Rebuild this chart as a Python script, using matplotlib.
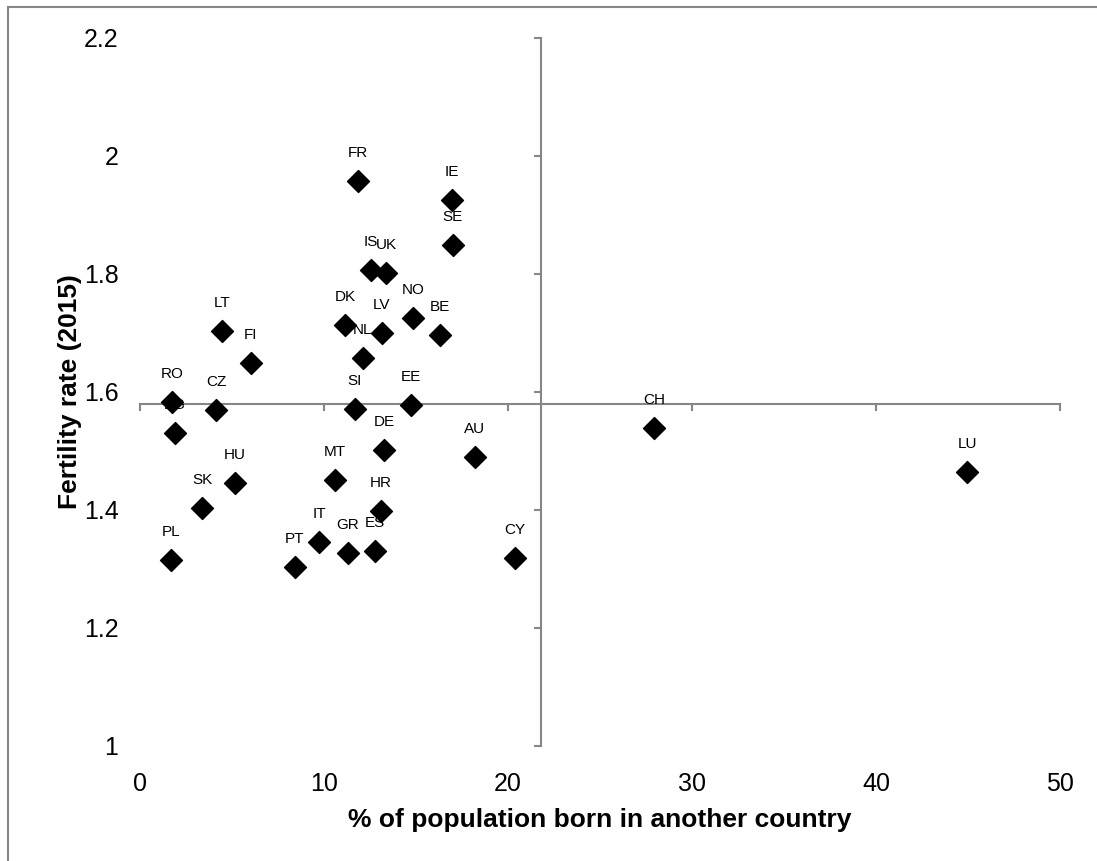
import matplotlib.pyplot as plt
from matplotlib.patches import Rectangle

plt.rcParams['font.family'] = ['Liberation Sans', 'DejaVu Sans']

# 国コード、外国生まれ人口(%)、出生率(2015)
countries = ['FR', 'IE', 'SE', 'IS', 'UK', 'DK', 'LV', 'NO', 'BE', 'NL',
             'LT', 'FI', 'RO', 'BG', 'CZ', 'SI', 'EE', 'DE', 'MT', 'HU',
             'SK', 'HR', 'IT', 'GR', 'ES', 'PT', 'PL', 'AU', 'CY', 'CH', 'LU']
born_abroad = [11.85, 16.96, 17.0, 12.55, 13.37, 11.14, 13.15, 14.84, 16.3, 12.12,
               4.46, 6.03, 1.74, 1.9, 4.13, 11.68, 14.73, 13.26, 10.6, 5.16,
               3.37, 13.1, 9.73, 11.3, 12.77, 8.42, 1.68, 18.2, 20.38, 27.93, 44.95]
fertility = [1.958, 1.925, 1.849, 1.807, 1.802, 1.714, 1.700, 1.725, 1.697, 1.658,
             1.703, 1.649, 1.583, 1.530, 1.569, 1.571, 1.578, 1.502, 1.451, 1.446,
             1.403, 1.398, 1.346, 1.327, 1.330, 1.303, 1.315, 1.490, 1.319, 1.539, 1.464]

x_ticks = [0, 10, 20, 30, 40, 50]
y_ticks = [1, 1.2, 1.4, 1.6, 1.8, 2, 2.2]
y_ticklabels = ['1', '1.2', '1.4', '1.6', '1.8', '2', '2.2']
x_cross = 21.8   # 縦軸の位置
y_cross = 1.58   # 横軸の位置

fig = plt.figure(figsize=(10.97, 8.61), dpi=100)
ax = fig.add_axes([0.1276, 0.1336, 0.8387, 0.8223])

# 外枠（右と下ははみ出している）
fig.patches.append(Rectangle((0.0073, -0.1), 1.2, 1.0919, transform=fig.transFigure,
                             fill=False, edgecolor='#868686', linewidth=1.5))

ax.scatter(born_abroad, fertility, marker='D', s=125, color='black', zorder=3)
for name, x, y in zip(countries, born_abroad, fertility):
    ax.annotate(name, (x, y), xytext=(0, 20), textcoords='offset points',
                ha='center', va='center', fontsize=11)

ax.set_xlim(0, 50)
ax.set_ylim(1, 2.2)
ax.set_xticks(x_ticks)
ax.set_yticks(y_ticks)
ax.set_yticklabels(y_ticklabels)

# 軸線はデータ上の交点に
ax.spines['bottom'].set_visible(False)
ax.spines['left'].set_visible(False)
ax.spines['top'].set_position(('data', y_cross))
ax.spines['right'].set_position(('data', x_cross))
for s in ['top', 'right']:
    ax.spines[s].set_color('#868686')
    ax.spines[s].set_linewidth(1.5)
ax.tick_params(axis='both', which='both', top=True, right=True, direction='in',
               labeltop=False, labelright=False, color='#868686', width=1.5, length=5)
ax.tick_params(axis='x', bottom=False, labelsize=18, pad=19)
ax.tick_params(axis='y', left=False, labelsize=18, pad=15.5)

ax.set_xlabel('% of population born in another country', fontsize=19,
              fontweight='bold', va='top')
ax.xaxis.set_label_coords(0.5, -0.088)
ax.set_ylabel('Fertility rate (2015)', fontsize=19, fontweight='bold')
ax.yaxis.set_label_coords(-0.0625, 0.5)

fig.savefig('out.png', dpi=100)
